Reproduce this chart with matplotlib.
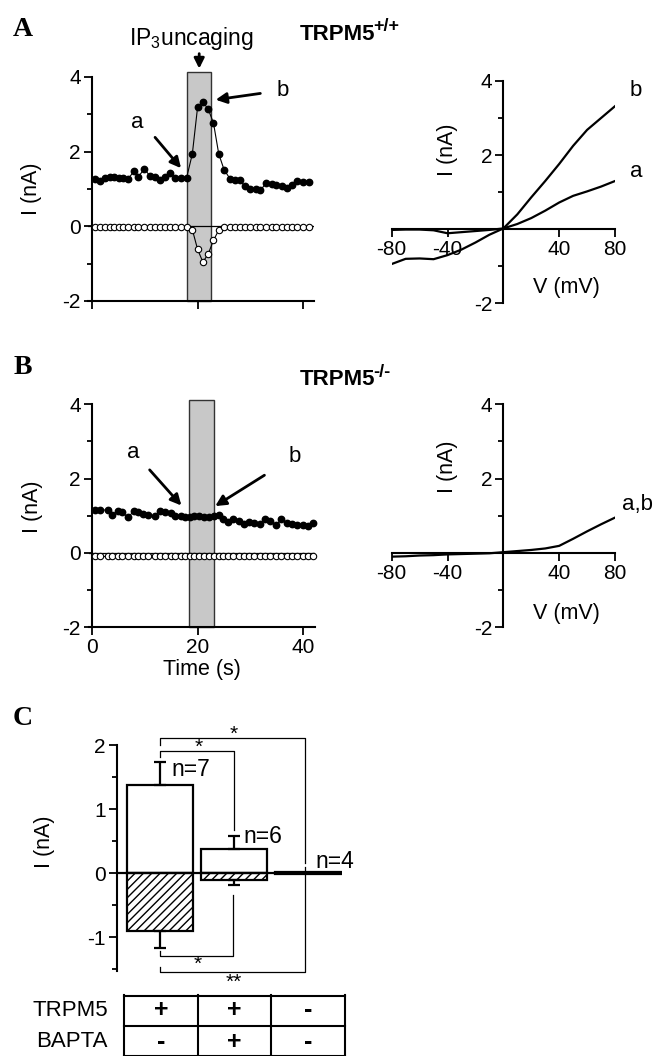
import matplotlib.pyplot as plt
import matplotlib.patches as mpatches
from matplotlib.ticker import MultipleLocator

plt.rcParams['font.family'] = ['Liberation Sans', 'DejaVu Sans']
plt.rcParams['mathtext.fontset'] = 'custom'
plt.rcParams['mathtext.rm'] = 'Liberation Sans'
plt.rcParams['mathtext.bf'] = 'Liberation Sans:bold'
plt.rcParams['axes.linewidth'] = 1.5
plt.rcParams['axes.unicode_minus'] = False

# ---- A: time course, TRPM5 +/+ ----
tA = [0.6, 1.6, 2.5, 3.4, 4.2, 5.1, 5.9, 6.8, 7.9, 8.8, 9.9, 10.9, 11.9, 12.8, 13.8,
      14.7, 15.8, 16.8, 17.9, 19.0, 20.0, 21.0, 22.0, 23.0, 24.0, 25.0, 26.1, 27.0,
      28.0, 28.9, 30.0, 31.0, 31.9, 33.0, 34.0, 34.9, 35.9, 36.9, 37.9, 38.9, 40.0, 41.0]
iA_out = [1.27, 1.21, 1.30, 1.33, 1.32, 1.30, 1.30, 1.26, 1.47, 1.33, 1.54, 1.36, 1.33,
          1.24, 1.33, 1.44, 1.30, 1.29, 1.29, 1.94, 3.20, 3.33, 3.14, 2.77, 1.94, 1.52,
          1.28, 1.24, 1.23, 1.08, 1.00, 1.00, 0.96, 1.17, 1.14, 1.11, 1.09, 1.03, 1.10,
          1.21, 1.20, 1.18]
iA_in = [-0.02, -0.02, -0.02, -0.02, -0.02, -0.02, -0.02, -0.02, -0.02, -0.02, -0.02,
         -0.02, -0.02, -0.02, -0.02, -0.02, -0.02, -0.02, -0.02, -0.09, -0.62, -0.96,
         -0.74, -0.38, -0.10, -0.02, -0.02, -0.02, -0.02, -0.02, -0.02, -0.02, -0.02,
         -0.02, -0.02, -0.02, -0.02, -0.02, -0.02, -0.02, -0.02, -0.02]
bandA = (18.0, 22.5)

# ---- B: time course, TRPM5 -/- ----
tB = [0.7, 1.5, 3.0, 3.8, 4.9, 5.7, 6.9, 7.9, 8.8, 9.7, 10.6, 11.9, 12.9, 13.8, 14.9,
      15.8, 16.8, 17.7, 18.5, 19.3, 20.2, 21.2, 22.1, 23.1, 24.0, 24.8, 25.8, 26.8,
      27.8, 28.8, 29.7, 30.7, 31.8, 32.8, 33.8, 34.9, 35.8, 36.9, 37.9, 38.9, 39.9,
      40.9, 41.8]
iB_out = [1.16, 1.16, 1.15, 1.03, 1.12, 1.09, 0.96, 1.12, 1.09, 1.06, 1.02, 1.00, 1.12,
          1.09, 1.07, 0.98, 0.98, 0.97, 0.96, 0.98, 0.98, 0.97, 0.97, 0.98, 1.01, 0.91,
          0.82, 0.90, 0.85, 0.78, 0.83, 0.81, 0.79, 0.90, 0.85, 0.75, 0.90, 0.81, 0.78,
          0.76, 0.76, 0.73, 0.81]
iB_in = [-0.09, -0.09, -0.09, -0.09, -0.09, -0.09, -0.09, -0.09, -0.09, -0.09, -0.09,
         -0.09, -0.09, -0.09, -0.09, -0.09, -0.09, -0.09, -0.09, -0.09, -0.09, -0.09,
         -0.09, -0.09, -0.09, -0.09, -0.09, -0.09, -0.09, -0.09, -0.09, -0.09, -0.09,
         -0.09, -0.09, -0.09, -0.09, -0.09, -0.09, -0.09, -0.09, -0.09, -0.09]
bandB = (18.4, 23.1)

# ---- I-V curves ----
V = [-80, -70, -60, -50, -40, -30, -20, -10, 0, 10, 20, 30, 40, 50, 60, 70, 80]
ivA_a = [-0.02, -0.01, -0.01, -0.03, -0.11, -0.08, -0.05, -0.02, 0.02, 0.14, 0.30,
         0.50, 0.72, 0.90, 1.02, 1.15, 1.30]
ivA_b = [-0.94, -0.80, -0.79, -0.81, -0.70, -0.55, -0.36, -0.15, 0.02, 0.40, 0.86,
         1.30, 1.76, 2.25, 2.68, 3.00, 3.32]
ivB_ab = [-0.10, -0.09, -0.07, -0.06, -0.04, -0.03, -0.02, -0.01, 0.02, 0.05, 0.08,
          0.12, 0.19, 0.38, 0.58, 0.77, 0.95]

# ---- C: summary ----
n_labels = ['n=7', 'n=6', 'n=4']
i_out = [1.38, 0.375, 0.012]
i_out_err = [0.36, 0.20, 0.0]
i_in = [-0.91, -0.10, -0.012]
i_in_err = [0.25, 0.08, 0.0]
trpm5_row = ['+', '+', '-']
bapta_row = ['-', '+', '-']

FS = 15

fig = plt.figure(figsize=(6.62, 10.56), dpi=100)


def time_axes(ax, t, i_out_, i_in_, band, band_top, show_x):
    ax.axhline(0, color='black', lw=0.9, zorder=1)
    ax.add_patch(mpatches.Rectangle((band[0], -2), band[1] - band[0], band_top + 2,
                                    fc='#c8c8c8', ec='#333333', lw=1.0,
                                    clip_on=False, zorder=0))
    ax.plot(t, i_out_, '-o', color='black', lw=0.8, ms=4.6, zorder=3, clip_on=False)
    ax.plot(t, i_in_, '-o', color='black', lw=0.8, ms=4.6, mfc='white', mew=0.8,
            zorder=3, clip_on=False)
    ax.set_ylim(-2, 4)
    ax.spines['top'].set_visible(False)
    ax.spines['right'].set_visible(False)
    ax.spines['left'].set_position(('data', 0))
    ax.set_xticks([0, 20, 40])
    ax.set_yticks([-2, 0, 2, 4])
    ax.yaxis.set_minor_locator(MultipleLocator(1))
    ax.tick_params(which='major', length=6, width=1.3, labelsize=FS, pad=2)
    ax.tick_params(which='minor', length=3.5, width=1.3)
    if not show_x:
        ax.set_xticklabels([])
    ax.set_ylabel('I (nA)', fontsize=FS + 0.5)


def iv_axes(ax):
    ax.set_xlim(-80, 80)
    ax.set_ylim(-2, 4)
    ax.spines['top'].set_visible(False)
    ax.spines['right'].set_visible(False)
    ax.spines['left'].set_position(('data', 0))
    ax.spines['bottom'].set_position(('data', 0))
    ax.set_xticks([-80, -40, 40, 80])
    ax.set_yticks([-2, 2, 4])
    ax.yaxis.set_minor_locator(MultipleLocator(1))
    ax.tick_params(which='major', length=6, width=1.3, labelsize=FS, pad=2)
    ax.tick_params(which='minor', length=3.5, width=1.3)
    ax.set_ylabel('I (nA)', fontsize=FS + 0.5)
    ax.set_xlabel('V (mV)', fontsize=FS + 0.5)


def title_with_sup(x, y, main, sup):
    t = fig.text(x, y, main, fontsize=16, fontweight='bold', ha='left', va='baseline')
    plt.annotate(sup, xy=(1.0, 1.0), xycoords=t, xytext=(-1.5, -8),
                 textcoords='offset points', fontsize=13, fontweight='bold',
                 ha='left', va='bottom')


# A left
axA = fig.add_axes([0.1334, 0.7150, 0.3406, 0.2121])
axA.set_xlim(-0.7, 42)
time_axes(axA, tA, iA_out, iA_in, bandA, 4.13, False)
axA.yaxis.set_label_coords(-0.205, 0.50)
axA.text(18.9, 4.86, r'IP$_3$uncaging', fontsize=16.5, ha='center', va='baseline')
axA.annotate('', xy=(20.3, 4.15), xytext=(20.3, 4.70), annotation_clip=False,
             arrowprops=dict(arrowstyle='-|>', lw=2, color='black', mutation_scale=15))
axA.text(8.5, 2.79, 'a', fontsize=FS + 1, ha='center', va='center')
axA.annotate('', xy=(17.2, 1.50), xytext=(11.6, 2.44),
             arrowprops=dict(arrowstyle='-|>', lw=2, color='black', mutation_scale=16))
axA.text(36.2, 3.65, 'b', fontsize=FS + 1, ha='center', va='center')
axA.annotate('', xy=(22.9, 3.38), xytext=(32.4, 3.57),
             arrowprops=dict(arrowstyle='-|>', lw=2, color='black', mutation_scale=16))

# A right
axAiv = fig.add_axes([0.5917, 0.7128, 0.3373, 0.2105])
axAiv.plot(V, ivA_a, color='black', lw=1.6)
axAiv.plot(V, ivA_b, color='black', lw=1.6)
iv_axes(axAiv)
axAiv.yaxis.set_label_coords(0.297, 0.69)
axAiv.xaxis.set_label_coords(0.784, 0.12)
axAiv.text(1.095, 0.955, 'b', transform=axAiv.transAxes, fontsize=FS + 1, ha='center', va='center')
axAiv.text(1.095, 0.595, 'a', transform=axAiv.transAxes, fontsize=FS + 1, ha='center', va='center')

# B left
axB = fig.add_axes([0.1346, 0.4060, 0.3411, 0.2112])
axB.set_xlim(-0.5, 42.2)
time_axes(axB, tB, iB_out, iB_in, bandB, 4.12, True)
axB.yaxis.set_label_coords(-0.205, 0.54)
axB.set_xlabel('Time (s)', fontsize=FS + 0.5, labelpad=1)
axB.text(7.8, 2.69, 'a', fontsize=FS + 1, ha='center', va='center')
axB.annotate('', xy=(17.3, 1.22), xytext=(10.6, 2.29),
             arrowprops=dict(arrowstyle='-|>', lw=2, color='black', mutation_scale=16))
axB.text(38.4, 2.59, 'b', fontsize=FS + 1, ha='center', va='center')
axB.annotate('', xy=(22.9, 1.22), xytext=(33.1, 2.13),
             arrowprops=dict(arrowstyle='-|>', lw=2, color='black', mutation_scale=16))

# B right
axBiv = fig.add_axes([0.5917, 0.4060, 0.3373, 0.2112])
axBiv.plot(V, ivB_ab, color='black', lw=1.6)
iv_axes(axBiv)
axBiv.yaxis.set_label_coords(0.297, 0.72)
axBiv.xaxis.set_label_coords(0.784, 0.108)
axBiv.text(1.10, 0.55, 'a,b', transform=axBiv.transAxes, fontsize=FS + 1, ha='center', va='center')

# C bars
axC = fig.add_axes([0.1763, 0.0809, 0.3399, 0.2136])
x = [0, 1, 2]
axC.bar(x, i_out, width=0.89, color='white', edgecolor='black', lw=1.6, zorder=2)
axC.bar(x, i_in, width=0.89, color='white', edgecolor='black', lw=1.6, hatch='////',
        zorder=2)
axC.errorbar(x[:2], i_out[:2], yerr=[[0, 0], i_out_err[:2]], fmt='none', ecolor='black',
             elinewidth=1.6, capsize=4, capthick=1.6, zorder=3)
axC.errorbar(x[:2], i_in[:2], yerr=[i_in_err[:2], [0, 0]], fmt='none', ecolor='black',
             elinewidth=1.6, capsize=4, capthick=1.6, zorder=3)
axC.axhline(0, color='black', lw=1.6, zorder=4)
axC.set_xlim(-0.577, 2.445)
axC.set_ylim(-1.52, 2.0)
for s in ['top', 'right', 'bottom']:
    axC.spines[s].set_visible(False)
axC.set_xticks([])
axC.set_yticks([-1, 0, 1, 2])
axC.yaxis.set_minor_locator(MultipleLocator(0.5))
axC.tick_params(which='major', length=6, width=1.3, labelsize=FS, pad=2)
axC.tick_params(which='minor', length=3.5, width=1.3)
axC.set_ylabel('I (nA)', fontsize=FS + 0.5)
axC.yaxis.set_label_coords(-0.274, 0.571)

# n labels
n_pos = [(0.156, 1.61), (1.13, 0.58), (2.09, 0.18)]
for lab, (xx, yy) in zip(n_labels, n_pos):
    axC.text(xx, yy, lab, fontsize=FS + 1.5, ha='left', va='center')

# significance brackets: (x_end, y_left_start, y_line, y_right_end, label, label_y)
brackets = [
    (1.956, 2.00, 2.11, 0.16, '*', 2.16),
    (1.00, 1.82, 1.91, 0.68, '*', 1.96),
    (0.98, -1.22, -1.30, -0.34, '*', -1.43),
    (1.956, -1.46, -1.55, 0.10, '**', -1.70),
]
for xe, y0, yl, y1, lab, ly in brackets:
    axC.plot([0, 0, xe, xe], [y0, yl, yl, y1], color='black', lw=0.9, clip_on=False)
    axC.text(xe / 2 + 0.02, ly, lab, fontsize=FS, ha='center', va='center')

# table
axT = fig.add_axes([0.1873, -0.001, 0.3338, 0.0588])
axT.set_xlim(0, 3)
axT.set_ylim(0, 2)
axT.axis('off')
for yy in [0.02, 1, 1.98]:
    axT.plot([0, 3], [yy, yy], color='black', lw=1.5, clip_on=False)
for xx in [0, 1, 2, 3]:
    axT.plot([xx, xx], [0, 2], color='black', lw=1.5, clip_on=False)
for j, (s1, s2) in enumerate(zip(trpm5_row, bapta_row)):
    axT.text(j + 0.5, 1.5, s1, fontsize=FS + 3, fontweight='bold', ha='center', va='center')
    axT.text(j + 0.5, 0.5, s2, fontsize=FS + 3, fontweight='bold', ha='center', va='center')
axT.text(-0.22, 1.5, 'TRPM5', fontsize=FS + 1, ha='right', va='center')
axT.text(-0.22, 0.5, 'BAPTA', fontsize=FS + 1, ha='right', va='center')

# panel letters and titles
for lab, yy in [('A', 0.9716), ('B', 0.652), ('C', 0.320)]:
    fig.text(0.034, yy, lab, fontsize=20, fontweight='bold', family='Liberation Serif',
             ha='center', va='center')
title_with_sup(0.453, 0.962, 'TRPM5', '+/+')
title_with_sup(0.453, 0.635, 'TRPM5', '-/-')

fig.savefig('out.png', dpi=100)
